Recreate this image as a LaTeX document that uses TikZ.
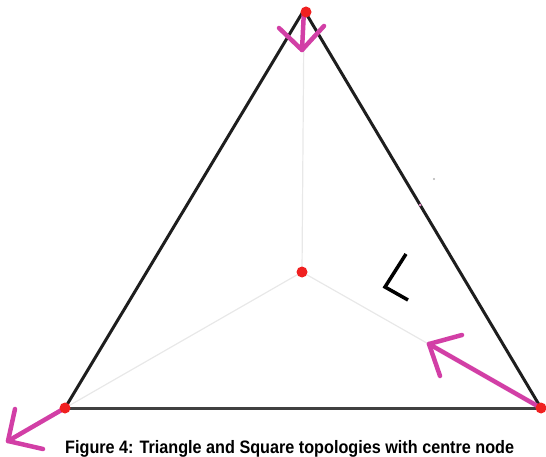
\documentclass[tikz,border=0pt]{standalone}
\usepackage{fontspec}
\setmainfont{Liberation Sans}
\definecolor{mag}{HTML}{D23FA6}
\definecolor{dotred}{HTML}{F02020}
\definecolor{edge}{HTML}{1E1E1E}
\definecolor{spoke}{HTML}{E8E8E8}
\begin{document}
\begin{tikzpicture}[x=1pt,y=-1pt,
  edgeline/.style={edge,line width=3pt},
  spokeline/.style={spoke,line width=1.2pt},
  arrowline/.style={mag,line width=4.5pt,line cap=round,line join=round},
  reddot/.style={circle,fill=dotred,inner sep=0pt,minimum size=11pt},
  ]
\useasboundingbox (0,0) rectangle (546,457);
\coordinate (T) at (304,10);
\coordinate (BL) at (65,408);
\coordinate (BR) at (541,408);
\coordinate (C) at (302,272);
% spokes
\draw[spokeline] (C) -- (T);
\draw[spokeline] (C) -- (BL);
\draw[spokeline] (C) -- (BR);
% triangle
\draw[edgeline] (T) -- (BL);
\draw[edgeline] (T) -- (BR);
\draw[edge!85!white,line width=3pt] (BL) -- (BR);
% arrows
\coordinate (tT) at (302,50);
\draw[arrowline] (T) -- (tT);
\draw[arrowline] (279,28) -- (tT) -- (324,26);
\coordinate (tBL) at (8,441);
\draw[arrowline] (BL) -- (tBL);
\draw[arrowline] (15,409) -- (tBL) -- (43,449);
\coordinate (tBR) at (429,344);
\draw[arrowline] (BR) -- (tBR);
\draw[arrowline] (462,335) -- (tBR) -- (440,376);
% dots
\node[reddot] (nT) at (306,12) {};
\node[reddot] (nBL) at (BL) {};
\node[reddot] (nBR) at (BR) {};
\node[reddot] (nC) at (C) {};
% angle mark
\draw[black,line width=3.5pt,line join=miter] (406,254) -- (385,287) -- (408,300);
% small artifacts
\fill[mag!60!white] (420,205) circle (1.5pt);
\fill[gray!60] (434,179) circle (1.2pt);
% caption
\node[anchor=base west,inner sep=0pt] (cap) at (65,453) {\scalebox{0.9}[1]{\fontsize{18}{20}\selectfont\bfseries Figure 4: Triangle and Square topologies with centre node}};
\end{tikzpicture}
\end{document}
